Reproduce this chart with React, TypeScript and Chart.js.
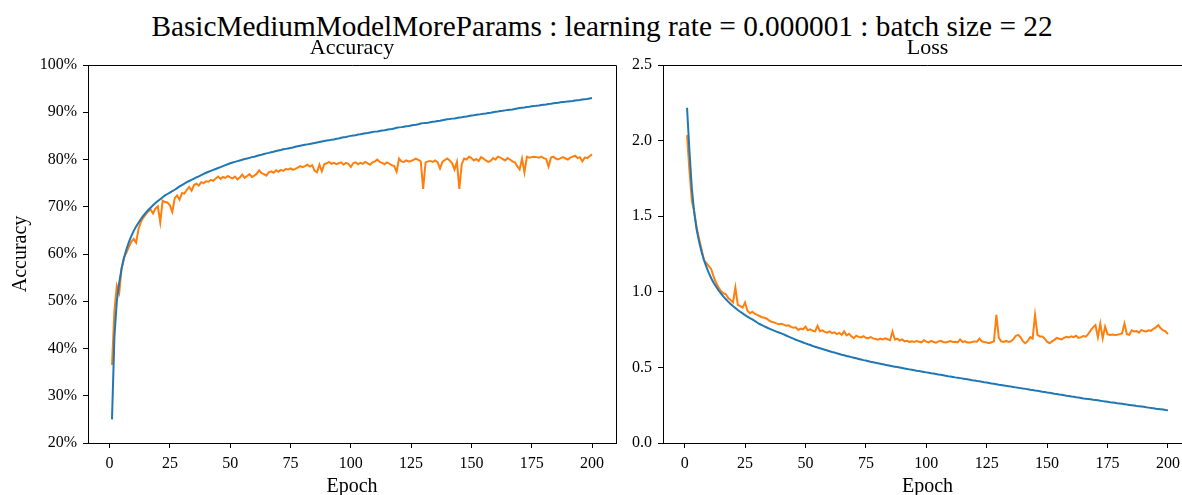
import React, { useEffect, useRef } from "react";
import { Chart, registerables } from "chart.js";

Chart.register(...registerables);

// Epoch index for every recorded training step
const epochs = Array.from({ length: 200 }, (_, i) => i + 1);

// Accuracy (%) per epoch
const trainAccuracy = [
  25.0, 42.5, 50.0, 54.0, 57.0, 59.2, 61.0, 62.5, 63.8, 64.9,
  65.8, 66.6, 67.4, 68.1, 68.7, 69.3, 69.8, 70.3, 70.8, 71.2,
  71.6, 72.0, 72.4, 72.7, 73.0, 73.3, 73.6, 73.95, 74.3, 74.6,
  74.9, 75.2, 75.45, 75.7, 75.95, 76.2, 76.45, 76.7, 76.95, 77.2,
  77.4, 77.6, 77.8, 78.0, 78.2, 78.4, 78.6, 78.8, 79.0, 79.2,
  79.35, 79.5, 79.65, 79.8, 79.95, 80.1, 80.2, 80.35, 80.5, 80.6,
  80.75, 80.9, 81.0, 81.15, 81.3, 81.4, 81.55, 81.65, 81.8, 81.9,
  82.0, 82.15, 82.25, 82.35, 82.45, 82.55, 82.7, 82.8, 82.9, 83.0,
  83.1, 83.2, 83.3, 83.4, 83.5, 83.6, 83.7, 83.8, 83.9, 84.0,
  84.05, 84.2, 84.25, 84.4, 84.45, 84.6, 84.7, 84.75, 84.9, 85.0,
  85.1, 85.15, 85.3, 85.35, 85.45, 85.55, 85.6, 85.7, 85.8, 85.9,
  85.95, 86.05, 86.15, 86.2, 86.3, 86.4, 86.45, 86.55, 86.7, 86.8,
  86.85, 86.95, 87.05, 87.1, 87.2, 87.3, 87.35, 87.45, 87.6, 87.7,
  87.75, 87.8, 87.9, 88.0, 88.05, 88.15, 88.2, 88.3, 88.4, 88.5,
  88.55, 88.65, 88.7, 88.8, 88.9, 88.95, 89.05, 89.1, 89.2, 89.3,
  89.35, 89.45, 89.5, 89.6, 89.7, 89.75, 89.85, 89.9, 90.0, 90.1,
  90.15, 90.25, 90.3, 90.4, 90.5, 90.55, 90.6, 90.7, 90.8, 90.9,
  90.95, 91.0, 91.1, 91.15, 91.25, 91.3, 91.4, 91.45, 91.55, 91.6,
  91.65, 91.75, 91.8, 91.9, 91.95, 92.0, 92.1, 92.15, 92.2, 92.3,
  92.35, 92.4, 92.5, 92.55, 92.6, 92.7, 92.75, 92.8, 92.9, 93.0,
];

const valAccuracy = [
  36.5, 48.0, 53.3, 51.8, 57.0, 59.3, 60.3, 61.5, 62.6, 63.2,
  62.4, 65.3, 66.8, 67.7, 68.4, 69.0, 69.4, 68.6, 69.6, 70.1,
  66.7, 71.3, 71.0, 70.9, 70.3, 68.9, 71.8, 72.4, 71.5, 72.9,
  72.8, 73.6, 74.2, 73.4, 74.6, 74.9, 74.5, 75.2, 75.0, 75.4,
  75.3, 75.7, 75.5, 76.0, 76.4, 75.9, 76.3, 76.1, 76.5, 76.2,
  76.0, 76.4, 75.8, 76.2, 76.8, 76.1, 76.5, 76.9, 76.3, 76.6,
  77.0, 77.7, 77.1, 76.9, 76.6, 77.3, 77.5, 77.2, 77.7, 77.4,
  77.8, 77.6, 78.0, 77.9, 78.1, 77.8, 78.0, 78.3, 78.6, 78.4,
  78.6, 78.9, 78.5, 78.8, 77.6, 77.3, 78.9, 77.5, 79.0, 79.2,
  79.5, 79.1, 79.3, 79.0, 79.2, 79.4, 78.9, 79.3, 79.1, 78.4,
  79.2, 79.4, 79.0, 79.3, 79.1, 79.5, 79.2, 78.9, 79.4, 79.6,
  80.0, 79.5, 79.3, 79.0, 79.4, 79.1, 78.8, 78.6, 77.4, 80.2,
  79.6, 79.5, 79.8, 79.6, 79.7, 79.9, 80.2, 79.9, 79.6, 73.8,
  79.4, 79.6, 79.7, 79.5, 79.8, 79.4, 78.1, 79.5, 79.9, 80.2,
  79.8, 79.2, 77.9, 79.5, 73.8, 79.0, 80.2, 80.0, 80.6, 80.3,
  79.8, 80.1, 79.7, 80.5, 80.2, 79.8, 79.5, 79.7, 80.3, 80.0,
  80.6, 80.4, 80.1, 79.8, 80.3, 80.0, 79.6, 79.4, 78.6, 77.9,
  80.2, 77.3, 80.6, 80.4, 80.5, 80.6, 80.5, 80.4, 80.6, 80.3,
  80.1, 78.5, 80.4, 80.6, 80.2, 80.0, 80.3, 80.5, 80.2, 80.0,
  80.4, 80.6, 80.8, 80.3, 80.5, 79.6, 80.4, 80.3, 80.7, 81.1,
];

// Loss per epoch
const trainLoss = [
  2.217, 1.93, 1.68, 1.52, 1.41, 1.33, 1.265, 1.21, 1.165, 1.125,
  1.09, 1.06, 1.035, 1.01, 0.99, 0.97, 0.952, 0.935, 0.92, 0.906,
  0.893, 0.88, 0.868, 0.857, 0.846, 0.836, 0.826, 0.817, 0.808, 0.797,
  0.787, 0.779, 0.771, 0.764, 0.757, 0.75, 0.743, 0.737, 0.731, 0.725,
  0.718, 0.711, 0.704, 0.697, 0.69, 0.683, 0.677, 0.671, 0.665, 0.659,
  0.653, 0.648, 0.642, 0.637, 0.632, 0.627, 0.622, 0.617, 0.612, 0.607,
  0.602, 0.598, 0.593, 0.589, 0.584, 0.58, 0.576, 0.572, 0.568, 0.564,
  0.56, 0.556, 0.552, 0.548, 0.545, 0.541, 0.537, 0.534, 0.531, 0.527,
  0.524, 0.521, 0.517, 0.514, 0.511, 0.508, 0.505, 0.502, 0.499, 0.496,
  0.493, 0.49, 0.487, 0.484, 0.481, 0.478, 0.476, 0.473, 0.47, 0.467,
  0.464, 0.461, 0.459, 0.456, 0.453, 0.451, 0.448, 0.445, 0.442, 0.44,
  0.437, 0.434, 0.432, 0.429, 0.426, 0.424, 0.421, 0.418, 0.415, 0.413,
  0.41, 0.408, 0.405, 0.402, 0.4, 0.397, 0.394, 0.392, 0.389, 0.386,
  0.384, 0.381, 0.378, 0.376, 0.373, 0.371, 0.368, 0.365, 0.363, 0.36,
  0.358, 0.355, 0.352, 0.35, 0.347, 0.345, 0.342, 0.339, 0.337, 0.334,
  0.332, 0.329, 0.326, 0.324, 0.321, 0.319, 0.316, 0.313, 0.311, 0.308,
  0.306, 0.303, 0.301, 0.298, 0.295, 0.293, 0.291, 0.289, 0.286, 0.284,
  0.282, 0.279, 0.277, 0.275, 0.273, 0.27, 0.268, 0.266, 0.263, 0.261,
  0.259, 0.257, 0.254, 0.252, 0.25, 0.248, 0.245, 0.243, 0.241, 0.239,
  0.236, 0.234, 0.232, 0.23, 0.227, 0.225, 0.223, 0.221, 0.218, 0.216,
];

const valLoss = [
  2.036, 1.8, 1.6, 1.53, 1.42, 1.35, 1.28, 1.21, 1.19, 1.17,
  1.15, 1.1, 1.06, 1.03, 1.005, 0.99, 0.985, 0.96, 0.945, 0.93,
  1.028, 0.913, 0.905, 0.895, 0.929, 0.875, 0.858, 0.868, 0.855, 0.847,
  0.84, 0.832, 0.828, 0.822, 0.81, 0.802, 0.798, 0.791, 0.786, 0.789,
  0.783, 0.775, 0.778, 0.768, 0.762, 0.765, 0.748, 0.757, 0.752, 0.77,
  0.746, 0.752, 0.742, 0.738, 0.775, 0.739, 0.745, 0.735, 0.73, 0.738,
  0.726, 0.732, 0.72, 0.728, 0.716, 0.738, 0.712, 0.722, 0.706, 0.693,
  0.71, 0.702, 0.698, 0.707, 0.696, 0.693, 0.7, 0.692, 0.688, 0.683,
  0.69, 0.685, 0.692, 0.686, 0.68, 0.737, 0.685, 0.69, 0.678, 0.685,
  0.672, 0.676, 0.669, 0.672, 0.668, 0.674, 0.67, 0.666, 0.68, 0.67,
  0.665, 0.675, 0.668, 0.664, 0.672, 0.676, 0.668, 0.665, 0.67, 0.674,
  0.668, 0.67, 0.666, 0.685, 0.668, 0.673, 0.665, 0.664, 0.668, 0.672,
  0.67, 0.69, 0.672, 0.668, 0.665, 0.66, 0.666, 0.672, 0.847, 0.695,
  0.672, 0.669, 0.675, 0.668, 0.672, 0.685, 0.708, 0.715, 0.7, 0.672,
  0.66, 0.675, 0.7, 0.69, 0.847, 0.715, 0.705, 0.704, 0.69, 0.67,
  0.66, 0.672, 0.682, 0.695, 0.69, 0.685, 0.695, 0.702, 0.698, 0.706,
  0.7, 0.71, 0.695, 0.7, 0.708, 0.703, 0.72, 0.745, 0.765, 0.78,
  0.7, 0.79, 0.693, 0.77, 0.72, 0.715, 0.718, 0.715, 0.716, 0.72,
  0.725, 0.79, 0.72, 0.715, 0.745, 0.738, 0.74, 0.73, 0.748, 0.74,
  0.738, 0.745, 0.742, 0.755, 0.765, 0.78, 0.758, 0.745, 0.738, 0.72,
];

// Axis ticks
const epochTicks = [0, 25, 50, 75, 100, 125, 150, 175, 200];
const accuracyTicks = [20, 30, 40, 50, 60, 70, 80, 90, 100];
const lossTicks = [0, 0.5, 1.0, 1.5, 2.0, 2.5];

const SERIF = '"Liberation Serif", "DejaVu Serif", serif';
const BLUE = "#1f77b4";
const ORANGE = "#ff7f0e";

// Closes the axes box with a top and right spine
const boxFrame = {
  id: "boxFrame",
  afterDatasetsDraw(chart: any) {
    const { ctx, chartArea: a } = chart;
    ctx.save();
    ctx.strokeStyle = "#000";
    ctx.lineWidth = 1;
    ctx.beginPath();
    const top = Math.round(a.top - 0.5) + 0.5;
    const right = Math.round(a.right - 0.5) + 0.5;
    ctx.moveTo(a.left, top);
    ctx.lineTo(right, top);
    ctx.lineTo(right, a.bottom);
    ctx.stroke();
    ctx.restore();
  },
};

function series(values: number[]) {
  return values.map((v, i) => ({ x: epochs[i], y: v }));
}

type PanelSpec = {
  title: string;
  train: number[];
  val: number[];
  yMin: number;
  yMax: number;
  yTicks: number[];
  yFormat: (v: number) => string;
  yTitle?: string;
  yAxisWidth: number;
  rightPad: number;
};

function buildConfig(p: PanelSpec): any {
  const tickFont = { family: SERIF, size: 16 };
  return {
    type: "line",
    data: {
      datasets: [
        {
          label: "train",
          data: series(p.train),
          borderColor: BLUE,
          borderWidth: 2,
          pointRadius: 0,
          tension: 0,
        },
        {
          label: "validation",
          data: series(p.val),
          borderColor: ORANGE,
          borderWidth: 2,
          pointRadius: 0,
          tension: 0,
        },
      ],
    },
    options: {
      responsive: false,
      animation: false,
      events: [],
      layout: { padding: { left: 0, top: 0, right: p.rightPad, bottom: 0 } },
      plugins: {
        legend: { display: false },
        tooltip: { enabled: false },
        title: {
          display: true,
          text: p.title,
          fullSize: false,
          color: "#000",
          font: { family: SERIF, size: 22, weight: "normal", lineHeight: 1 },
          padding: { top: 37, bottom: 6 },
        },
      },
      scales: {
        x: {
          type: "linear",
          min: -8.95,
          max: 209.95,
          afterBuildTicks: (s: any) => {
            s.ticks = epochTicks.map((v) => ({ value: v }));
          },
          afterFit: (s: any) => {
            s.height = 52;
          },
          grid: {
            drawOnChartArea: false,
            drawTicks: true,
            tickLength: 5,
            tickColor: "#000",
            tickWidth: 1,
          },
          border: { display: true, color: "#000", width: 1 },
          ticks: {
            color: "#000",
            font: tickFont,
            padding: 6,
            maxRotation: 0,
            autoSkip: false,
          },
          title: {
            display: true,
            text: "Epoch",
            color: "#000",
            font: { family: SERIF, size: 20, lineHeight: 0.8 },
            padding: 0,
          },
        },
        y: {
          type: "linear",
          min: p.yMin,
          max: p.yMax,
          afterBuildTicks: (s: any) => {
            s.ticks = p.yTicks.map((v) => ({ value: v }));
          },
          afterFit: (s: any) => {
            s.width = p.yAxisWidth;
          },
          grid: {
            drawOnChartArea: false,
            drawTicks: true,
            tickLength: 5,
            tickColor: "#000",
            tickWidth: 1,
          },
          border: { display: true, color: "#000", width: 1 },
          ticks: {
            color: "#000",
            font: tickFont,
            padding: 6,
            autoSkip: false,
            callback: (v: number) => p.yFormat(v),
          },
          title: {
            display: !!p.yTitle,
            text: p.yTitle || "",
            color: "#000",
            font: { family: SERIF, size: 20, lineHeight: 1 },
            padding: { top: 11, bottom: 0 },
          },
        },
      },
    },
    plugins: [boxFrame],
  };
}

function Panel({
  spec,
  left,
  width,
}: {
  spec: PanelSpec;
  left: number;
  width: number;
}) {
  const ref = useRef<HTMLCanvasElement | null>(null);
  useEffect(() => {
    if (!ref.current) return;
    const chart = new Chart(ref.current, buildConfig(spec));
    return () => chart.destroy();
  }, []);
  return (
    <canvas
      ref={ref}
      width={width}
      height={495}
      style={{ position: "absolute", left, top: 0, width, height: 495 }}
    />
  );
}

const accuracyPanel: PanelSpec = {
  title: "Accuracy",
  train: trainAccuracy,
  val: valAccuracy,
  yMin: 20,
  yMax: 100,
  yTicks: accuracyTicks,
  yFormat: (v) => `${v}%`,
  yTitle: "Accuracy",
  yAxisWidth: 88,
  rightPad: 9,
};

const lossPanel: PanelSpec = {
  title: "Loss",
  train: trainLoss,
  val: valLoss,
  yMin: 0,
  yMax: 2.5,
  yTicks: lossTicks,
  yFormat: (v) => v.toFixed(1),
  yAxisWidth: 33,
  rightPad: 18,
};

export default function App() {
  return (
    <div
      style={{
        position: "absolute",
        left: 0,
        top: 0,
        width: 1182,
        height: 495,
        overflow: "hidden",
        background: "#fff",
      }}
    >
      <div
        style={{
          position: "absolute",
          left: 0,
          top: 10,
          width: 1204,
          textAlign: "center",
          fontFamily: SERIF,
          fontSize: 29.3,
          lineHeight: "32px",
          color: "#000",
          whiteSpace: "nowrap",
        }}
      >
        BasicMediumModelMoreParams : learning rate = 0.000001 : batch size = 22
      </div>
      <Panel spec={accuracyPanel} left={0} width={625} />
      <Panel spec={lossPanel} left={630} width={580} />
    </div>
  );
}
